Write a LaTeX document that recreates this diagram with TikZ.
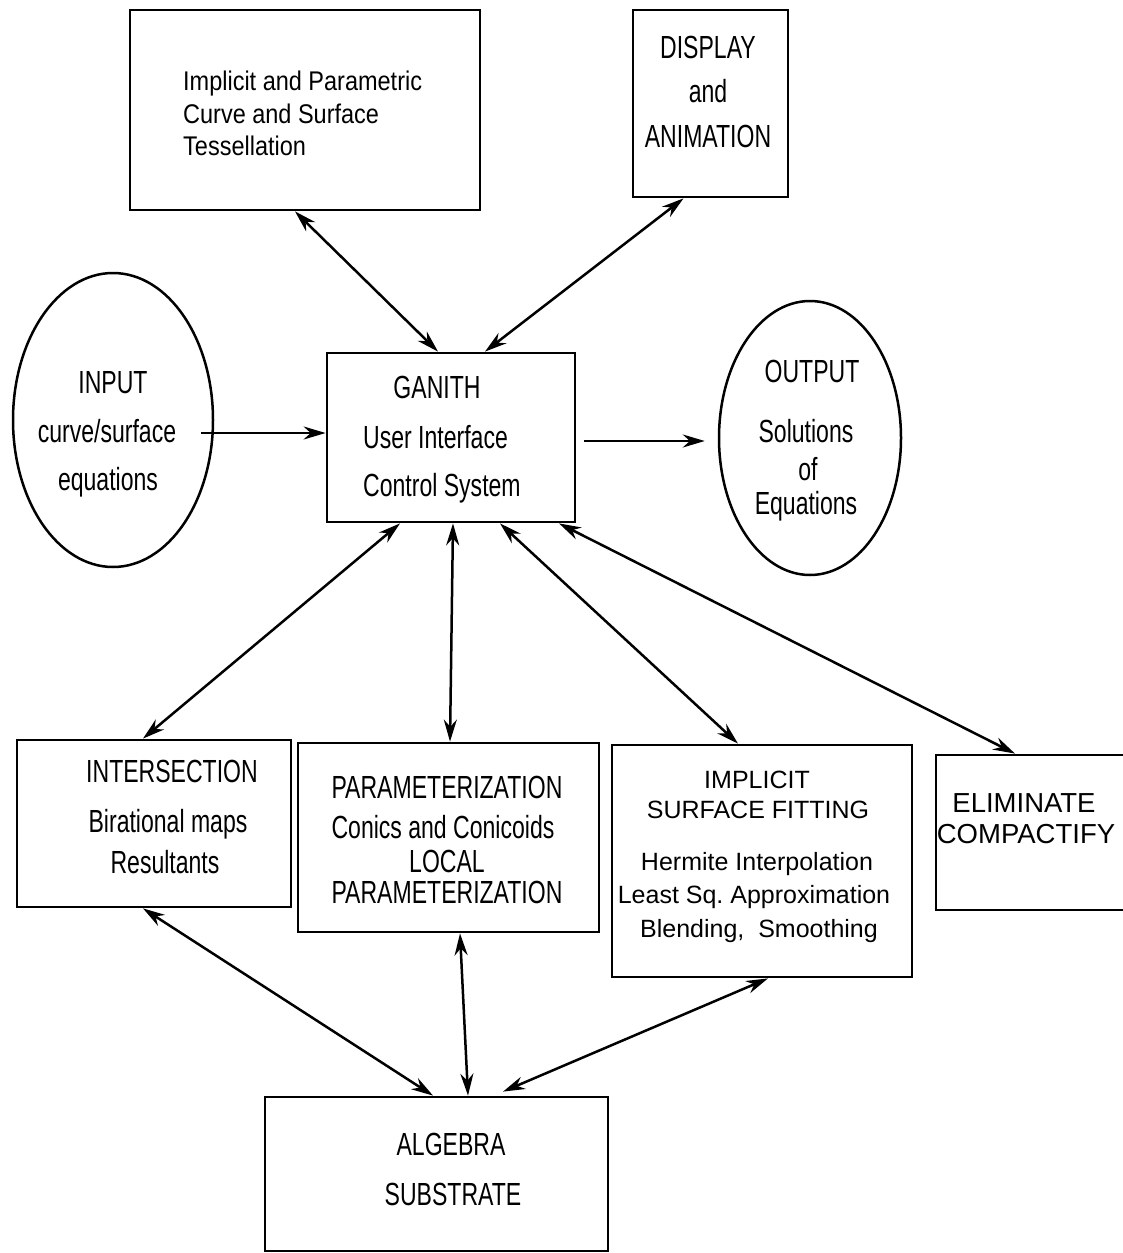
\documentclass[tikz,border=0pt]{standalone}
\usepackage{fontspec}
\setmainfont{Liberation Sans}
\newfontfamily\narrowsf[FakeStretch=0.72]{Liberation Sans}
\newfontfamily\midsf[FakeStretch=0.87]{Liberation Sans}
\usetikzlibrary{positioning,shapes.geometric,arrows.meta}

\begin{document}
\begin{tikzpicture}[x=1pt,y=1pt,
  box/.style={draw,rectangle,line width=2.8pt,inner sep=0pt},
  oval/.style={draw,ellipse,line width=2.5pt,inner sep=0pt},
  nar/.style={font={\narrowsf\fontsize{32}{38}\selectfont},inner sep=0pt,anchor=base},
  reg/.style={font={\fontsize{25}{30}\selectfont},inner sep=0pt,anchor=base},
  tes/.style={font={\midsf\fontsize{27}{32}\selectfont},inner sep=0pt,anchor=base west},
  link/.style={line width=2.5pt,-{Stealth[length=22pt,width=13pt]}},
  both/.style={line width=2.5pt,{Stealth[length=22pt,width=13pt]}-{Stealth[length=22pt,width=13pt]}}]
\useasboundingbox (0,0) rectangle (1123,-1253);
% boxes and ovals
\node[box,minimum width=350pt,minimum height=200pt] (tess) at (305,-110) {};
\node[box,minimum width=155pt,minimum height=187pt] (disp) at (710.5,-103.5) {};
\node[oval,minimum width=200pt,minimum height=294pt] (inp) at (113,-420) {};
\node[box,minimum width=248pt,minimum height=169pt] (ganith) at (451,-437.5) {};
\node[oval,minimum width=182pt,minimum height=274pt] (outp) at (810,-438) {};
\node[box,minimum width=274pt,minimum height=167pt] (inter) at (154,-823.5) {};
\node[box,minimum width=301pt,minimum height=189pt] (param) at (448.5,-837.5) {};
\node[box,minimum width=300pt,minimum height=232pt] (impl) at (762,-861) {};
\node[box,minimum width=204pt,minimum height=155pt] (elim) at (1038,-832.5) {};
\node[box,minimum width=343pt,minimum height=154pt] (alg) at (436.5,-1174) {};
% texts
\node[tes] (tessA) at (183,-90) {Implicit and Parametric};
\node[tes] (tessB) at (183,-123) {Curve and Surface};
\node[tes] (tessC) at (183,-155) {Tessellation};
\node[nar] (dispA) at (708,-58) {DISPLAY};
\node[nar] (dispB) at (708,-102) {and};
\node[nar] (dispC) at (708,-147) {ANIMATION};
\node[nar] (inpA) at (113,-393) {INPUT};
\node[nar] (inpB) at (107,-442) {curve/surface};
\node[nar] (inpC) at (108,-490) {equations};
\node[nar] (ganA) at (437,-398) {GANITH};
\node[nar,anchor=base west] (ganB) at (363,-448) {User Interface};
\node[nar,anchor=base west] (ganC) at (363,-496) {Control System};
\node[nar] (outA) at (812,-382) {OUTPUT};
\node[nar] (outB) at (806,-442) {Solutions};
\node[nar] (outC) at (808,-480) {of};
\node[nar] (outD) at (806,-514) {Equations};
\node[nar] (intA) at (172,-782) {INTERSECTION};
\node[nar] (intB) at (168,-832) {Birational maps};
\node[nar] (intC) at (165,-873) {Resultants};
\node[nar] (parA) at (447,-798) {PARAMETERIZATION};
\node[nar] (parB) at (443,-838) {Conics and Conicoids};
\node[nar] (parC) at (447,-872) {LOCAL};
\node[nar] (parD) at (447,-903) {PARAMETERIZATION};
\node[reg] (impA) at (757,-788) {IMPLICIT};
\node[reg] (impB) at (758,-818) {SURFACE FITTING};
\node[reg] (impC) at (757,-870) {Hermite Interpolation};
\node[reg] (impD) at (754,-903) {Least Sq.\ Approximation};
\node[reg] (impE) at (759,-937) {Blending,~ Smoothing};
\node[reg,font={\fontsize{27.5}{32}\selectfont}] (elimA) at (1024,-812) {ELIMINATE};
\node[reg,font={\fontsize{27.5}{32}\selectfont}] (elimB) at (1026,-843) {COMPACTIFY};
\node[nar] (algA) at (451,-1155) {ALGEBRA};
\node[nar] (algB) at (453,-1205) {SUBSTRATE};
% connectors
\draw[both] ([xshift=-10pt]tess.south) -- ([xshift=-13pt]ganith.north);
\draw[both] ([xshift=-27pt]disp.south) -- ([xshift=34pt]ganith.north);
\draw[link] ([shift={(-13pt,-13pt)}]inp.east) -- ([yshift=4.5pt]ganith.west);
\draw[link] ([shift={(8pt,-3.5pt)}]ganith.east) -- ([shift={(-13pt,-3pt)}]outp.west);
\draw[both] ([xshift=-51pt]ganith.south) -- ([xshift=-11pt]inter.north);
\draw[both] ([xshift=2pt]ganith.south) -- ([xshift=1.5pt]param.north);
\draw[both] ([xshift=49pt]ganith.south) -- ([xshift=-24pt]impl.north);
\draw[both] ([xshift=108pt]ganith.south) -- ([xshift=-23pt]elim.north);
\draw[both] ([xshift=-11pt]inter.south) -- ([xshift=-3.5pt]alg.north);
\draw[both] ([xshift=11.5pt]param.south) -- ([xshift=31.5pt]alg.north);
\draw[both] ([xshift=6pt]impl.south) -- ([shift={(66.5pt,4pt)}]alg.north);
\end{tikzpicture}
\end{document}
